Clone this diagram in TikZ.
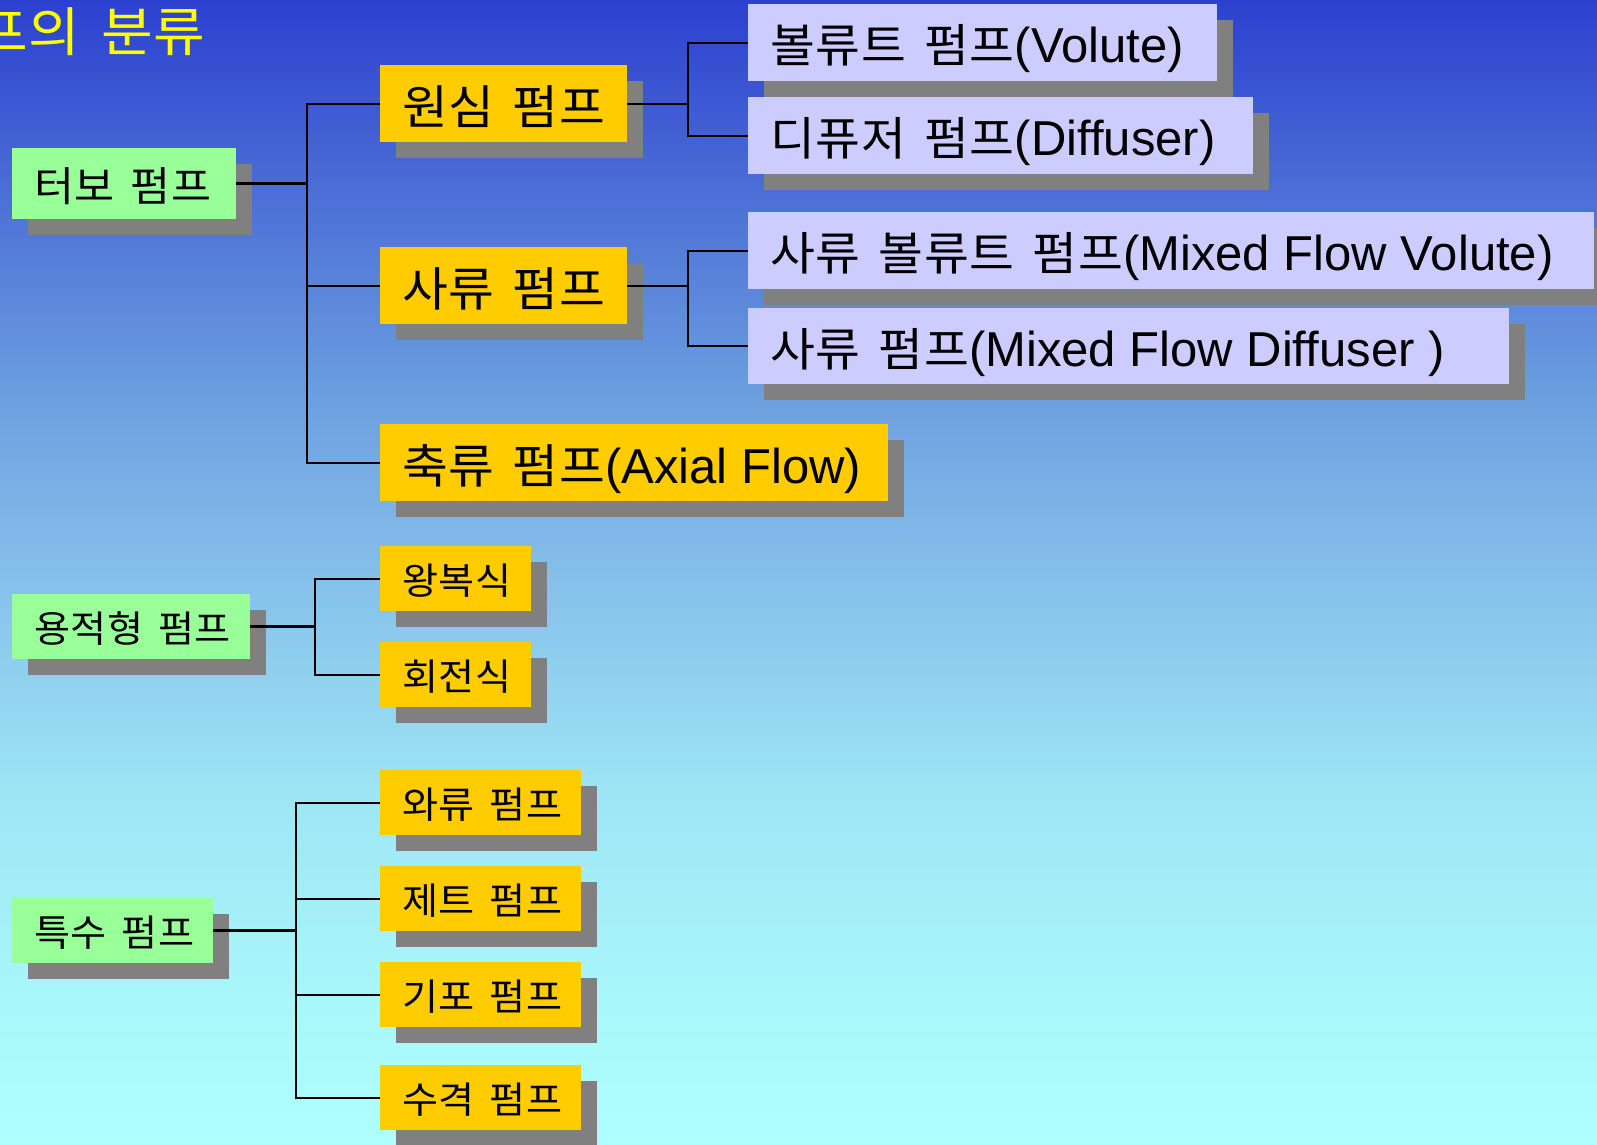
\documentclass[tikz,border=0pt]{standalone}
\usepackage{fontspec}
\setmainfont{Liberation Sans}
\newfontfamily\kr[FakeStretch=1.06, LetterSpace=2, WordSpace=1.5]{Noto Sans CJK KR}
\usetikzlibrary{shadows}
\definecolor{bg1}{RGB}{44,64,208}
\definecolor{bg2}{RGB}{76,112,214}
\definecolor{bg3}{RGB}{108,160,224}
\definecolor{bg4}{RGB}{127,184,232}
\definecolor{bg5}{RGB}{158,230,245}
\definecolor{bg6}{RGB}{168,247,250}
\definecolor{bg7}{RGB}{174,255,255}
\definecolor{shgray}{RGB}{128,128,128}
\definecolor{lvgreen}{RGB}{153,255,153}
\definecolor{lvyellow}{RGB}{255,204,0}
\definecolor{lvlav}{RGB}{204,204,255}
\definecolor{titleyellow}{RGB}{255,255,0}
\pgfdeclareverticalshading{bgshade}{100bp}{color(0bp)=(bg7); color(25bp)=(bg7); color(31.3bp)=(bg6); color(40bp)=(bg5); color(51.8bp)=(bg4); color(57.5bp)=(bg3); color(66.3bp)=(bg2); color(75bp)=(bg1); color(100bp)=(bg1)}
\tikzset{
  pbox/.style={anchor=north west, inner xsep=22pt, inner ysep=0pt, outer sep=0pt,
    general shadow={fill=shgray, shadow xshift=16pt, shadow yshift=-16pt}},
  stub/.style={line width=3pt, black},
  link/.style={line width=2pt, black},
}
\newcommand\pbx[8]{%
  \node[pbox, fill=#6, minimum width=#4pt, minimum height=#5pt,
        font=\fontsize{#7pt}{#7pt}\selectfont] (#1) at (#2,#3)
    {\makebox[\dimexpr#4pt-44pt\relax][l]{\rule[-0.08em]{0pt}{1.04em}\smash{#8}}};}
\newcommand\lt[1]{{\fontsize{49pt}{49pt}\selectfont #1}}
\begin{document}
\begin{tikzpicture}[x=1pt,y=-1pt]
\useasboundingbox (0,0) rectangle (1597,1144);
\clip (0,0) rectangle (1597,1144);
\shade[shading=bgshade] (0,0) rectangle (1597,1144);

\node[anchor=base west, inner sep=0pt, text=titleyellow,
      font=\kr\fontsize{53pt}{53pt}\selectfont] (title) at (-24,51) {프의 분류};

% level 1
\pbx{turbo}{12}{148}{224}{71}{lvgreen}{41}{\kr 터보 펌프}
\pbx{yong}{12}{594}{238}{65}{lvgreen}{37}{\kr 용적형 펌프}
\pbx{teuk}{12}{898}{201}{65}{lvgreen}{37}{\kr 특수 펌프}

% level 2
\pbx{wonsim}{380}{65}{247}{77}{lvyellow}{47}{\kr 원심 펌프}
\pbx{saryu}{380}{247}{247}{77}{lvyellow}{47}{\kr 사류 펌프}
\pbx{chuk}{380}{424}{508}{77}{lvyellow}{47}{{\kr 축류 펌프}\lt{(Axial Flow)}}
\pbx{wang}{380}{546}{151}{65}{lvyellow}{37}{\kr 왕복식}
\pbx{hoe}{380}{642}{151}{65}{lvyellow}{37}{\kr 회전식}
\pbx{waryu}{380}{770}{201}{65}{lvyellow}{37}{\kr 와류 펌프}
\pbx{jet}{380}{866}{201}{65}{lvyellow}{37}{\kr 제트 펌프}
\pbx{gipo}{380}{962}{201}{65}{lvyellow}{37}{\kr 기포 펌프}
\pbx{sugyeok}{380}{1065}{201}{65}{lvyellow}{37}{\kr 수격 펌프}

% level 3
\pbx{volute}{748}{4}{469}{77}{lvlav}{46}{{\kr 볼류트 펌프}\lt{(Volute)}}
\pbx{diffuser}{748}{97}{505}{77}{lvlav}{46}{{\kr 디퓨저 펌프}\lt{(Diffuser)}}
\pbx{mixvol}{748}{212}{846}{77}{lvlav}{46}{{\kr 사류 볼류트 펌프}\lt{(Mixed Flow Volute)}}
\pbx{mixdiff}{748}{308}{761}{76}{lvlav}{46}{{\kr 사류 펌프}\lt{(Mixed Flow Diffuser )}}

% connectors
\draw[stub] (turbo.east) -- ++(71,0) coordinate (tbus);
\draw[link] (tbus) |- (wonsim.west);
\draw[link] (tbus) |- (saryu.west);
\draw[link] (tbus) |- (chuk.west);

\draw[link] (wonsim.east) -- ++(61,0) coordinate (wbus);
\draw[link] (wbus) |- (volute.west);
\draw[link] (wbus) |- (diffuser.west);

\draw[link] (saryu.east) -- ++(61,0) coordinate (sbus);
\draw[link] (sbus) |- (mixvol.west);
\draw[link] (sbus) |- (mixdiff.west);

\draw[stub] (yong.east) -- ++(65,0) coordinate (ybus);
\draw[link] (ybus) |- (wang.west);
\draw[link] (ybus) |- (hoe.west);

\draw[stub] (teuk.east) -- ++(83,0) coordinate (kbus);
\draw[link] (kbus) |- (waryu.west);
\draw[link] (kbus) |- (jet.west);
\draw[link] (kbus) |- (gipo.west);
\draw[link] (kbus) |- (sugyeok.west);
\end{tikzpicture}
\end{document}
